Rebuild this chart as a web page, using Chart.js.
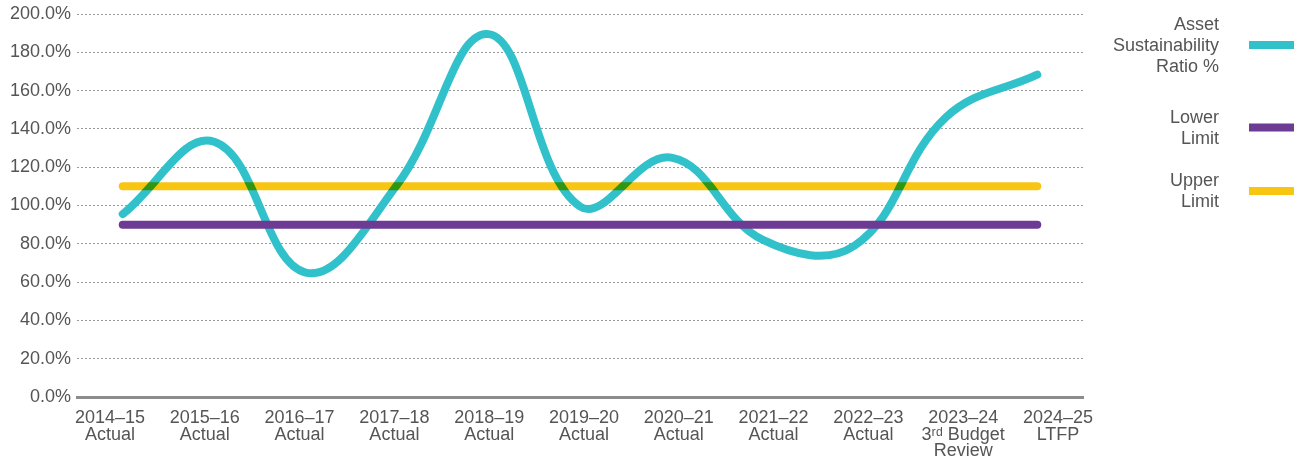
<!DOCTYPE html>
<html lang="en">
  <head>
    <meta charset="UTF-8" />
    <title>Asset Sustainability Ratio</title>
    <script src="https://cdn.jsdelivr.net/npm/chart.js@4.4.0/dist/chart.umd.min.js"></script>
    <style>
      body { margin: 0; background: #fff; }
      #wrap { width: 1308px; height: 462px; }
    </style>
  </head>
  <body>
    <div id="wrap"><canvas id="myChart"></canvas></div>
    <script>
      // data
      const years = ['2014–15', '2015–16', '2016–17', '2017–18', '2018–19', '2019–20',
                     '2020–21', '2021–22', '2022–23', '2023–24', '2024–25'];
      const stages = [['Actual'], ['Actual'], ['Actual'], ['Actual'], ['Actual'], ['Actual'],
                      ['Actual'], ['Actual'], ['Actual'], ['3ʳᵈ Budget', 'Review'], ['LTFP']];
      const ratio = [95.5, 133.3, 65, 110.8, 189.5, 99.5, 125, 82, 79, 146, 168.3];
      const lowerLimit = [90, 90, 90, 90, 90, 90, 90, 90, 90, 90, 90];
      const upperLimit = [110, 110, 110, 110, 110, 110, 110, 110, 110, 110, 110];
      const yTicks = [0, 20, 40, 60, 80, 100, 120, 140, 160, 180, 200];

      const textColor = '#555';
      const fontFamily = '"Liberation Sans", Arial, sans-serif';

      // yellow line blends with the teal (green crossings)
      const blendPlugin = {
        id: 'blend',
        beforeDatasetDraw(chart, args) {
          if (chart.data.datasets[args.index].blend) {
            chart.ctx.save();
            chart.ctx.globalCompositeOperation = 'multiply';
          }
        },
        afterDatasetDraw(chart, args) {
          if (chart.data.datasets[args.index].blend) chart.ctx.restore();
        }
      };

      // legend on the right, text right-aligned, swatch after it
      const legendCentres = [45, 127.5, 191];
      const sideLegend = {
        id: 'sideLegend',
        afterDraw(chart) {
          const ctx = chart.ctx;
          ctx.save();
          ctx.font = '18px ' + fontFamily;
          ctx.fillStyle = textColor;
          ctx.textAlign = 'right';
          ctx.textBaseline = 'middle';
          chart.data.datasets.forEach((ds, i) => {
            const cy = legendCentres[i];
            const lines = ds.label.split('\n');
            const lh = 21;
            const top = cy - (lines.length - 1) * lh / 2;
            lines.forEach((l, j) => ctx.fillText(l, 1219, top + j * lh + 1));
            ctx.fillStyle = ds.borderColor;
            ctx.fillRect(1249, cy - 4, 45, 8);
            ctx.fillStyle = textColor;
          });
          ctx.restore();
        }
      };

      const ctx = document.getElementById('myChart').getContext('2d');
      const myChart = new Chart(ctx, {
        type: 'line',
        data: {
          labels: years,
          datasets: [
            {
              label: 'Asset\nSustainability\nRatio %',
              data: ratio,
              borderColor: '#31c1ca',
              borderWidth: 8,
              tension: 0.4,
              borderCapStyle: 'round',
              pointRadius: 0,
              order: 2
            },
            {
              label: 'Lower\nLimit',
              data: lowerLimit,
              borderColor: '#6e3b94',
              borderWidth: 8,
              borderCapStyle: 'round',
              pointRadius: 0,
              order: 1
            },
            {
              label: 'Upper\nLimit',
              data: upperLimit,
              borderColor: '#f8c513',
              borderWidth: 8,
              borderCapStyle: 'round',
              pointRadius: 0,
              blend: true,
              order: 0
            }
          ]
        },
        options: {
          responsive: true,
          maintainAspectRatio: false,
          animation: false,
          layout: { padding: { top: 14, right: 225, left: 0, bottom: 0 } },
          plugins: {
            legend: { display: false },
            tooltip: { enabled: false }
          },
          scales: {
            x: {
              type: 'category',
              offset: true,
              grid: { display: false, drawTicks: false },
              border: { display: true, color: '#8c8c8c', width: 3 },
              ticks: { display: false },
              afterFit: s => { s.height = 0; }
            },
            xLabels: {
              type: 'linear',
              position: 'bottom',
              min: -0.348,
              max: 10.264,
              grid: { display: false, drawTicks: false },
              border: { display: false },
              afterBuildTicks: s => { s.ticks = years.map((y, i) => ({ value: i })); },
              afterFit: s => { s.height = 65; },
              ticks: {
                autoSkip: false,
                maxRotation: 0,
                padding: 13,
                color: textColor,
                font: { family: fontFamily, size: 18, lineHeight: 0.92 },
                callback: v => [years[v]].concat(stages[v])
              }
            },
            y: {
              min: 0,
              max: 200,
              afterBuildTicks: s => { s.ticks = yTicks.map(v => ({ value: v })); },
              afterFit: s => { s.width = 77; s.paddingTop = 0; },
              grid: {
                drawTicks: false,
                color: '#9a9a9a',
                lineWidth: 1
              },
              border: { display: false, dash: [2, 2] },
              ticks: {
                padding: 6,
                color: textColor,
                font: { family: fontFamily, size: 18 },
                callback: v => v.toFixed(1) + '%'
              }
            }
          }
        },
        plugins: [blendPlugin, sideLegend]
      });
    </script>
  </body>
</html>
